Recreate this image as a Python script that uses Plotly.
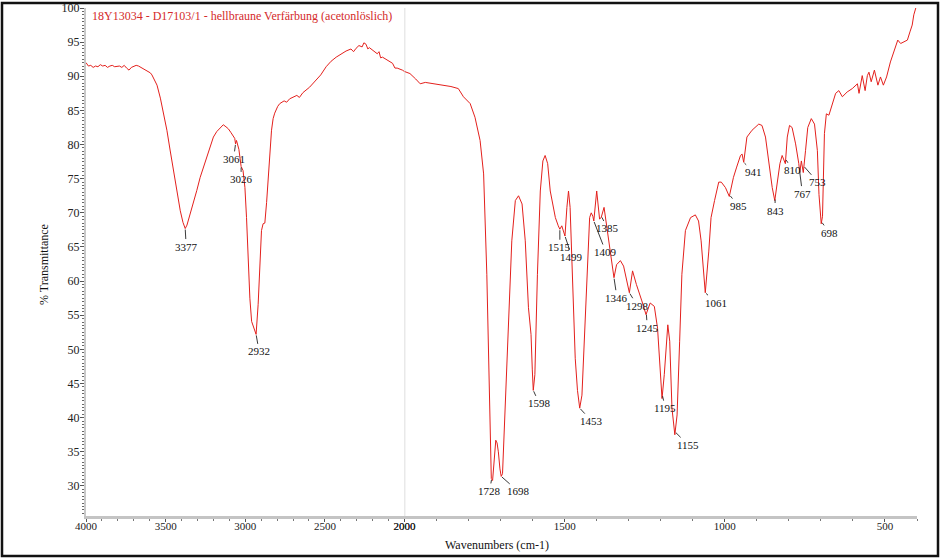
import numpy as np
import plotly.graph_objects as go

# ---- data (wavenumber cm-1, %T) ----
wn_high = [4000, 3985, 3970, 3955, 3940, 3925, 3910, 3895, 3880, 3865, 3850, 3835, 3820, 3805,
           3790, 3775, 3760, 3745, 3730, 3715, 3700, 3685, 3670, 3655, 3640, 3625, 3610, 3596,
           3586, 3571, 3554, 3533, 3512, 3492, 3472, 3452, 3430, 3408, 3391, 3377, 3366, 3346,
           3325, 3304, 3283, 3262, 3242, 3221, 3200, 3179, 3158, 3138, 3121, 3106, 3091, 3075,
           3066, 3061, 3055, 3040, 3033, 3029, 3026, 3014, 3002, 2992, 2981, 2971, 2960, 2946,
           2938, 2932, 2919, 2908, 2898, 2888, 2877, 2866, 2856, 2845, 2835, 2825, 2815, 2796,
           2783, 2756, 2740, 2721, 2696, 2676, 2660, 2638, 2596, 2554, 2526, 2492, 2461, 2429,
           2396, 2367, 2336, 2320, 2304, 2286, 2266, 2255, 2242, 2230, 2221, 2200, 2171, 2160,
           2150, 2138, 2106, 2075, 2060, 2046, 2013, 2000]
t_high = [92.0, 91.5, 91.6, 91.3, 91.5, 91.4, 91.7, 91.5, 91.6, 91.3, 91.5, 91.6, 91.4, 91.5,
          91.5, 91.3, 91.6, 91.2, 90.9, 91.3, 91.5, 91.6, 91.5, 91.3, 91.1, 91.0, 90.8, 90.5,
          90.2, 89.5, 88.7, 86.8, 84.5, 82.1, 79.2, 76.2, 73.1, 70.3, 68.6, 67.7, 68.2, 69.8,
          71.3, 73.3, 75.2, 76.7, 78.1, 79.7, 81.1, 81.9, 82.5, 82.9, 82.6, 82.3, 81.8, 81.1,
          80.9, 80.1, 80.6, 79.3, 78.3, 77.7, 76.8, 76.2, 73.7, 69.3, 62.5, 57.5, 54.1, 53.0,
          52.6, 52.2, 56.6, 62.5, 67.4, 68.4, 68.5, 71.5, 74.7, 79.0, 82.1, 83.8, 84.6, 85.6,
          86.0, 86.4, 86.2, 86.7, 87.0, 87.2, 86.9, 87.6, 88.4, 89.4, 90.2, 91.4, 92.2, 92.8,
          93.3, 93.7, 94.0, 93.6, 94.1, 94.5, 94.3, 94.9, 94.7, 94.0, 94.2, 93.8, 93.3, 93.6,
          92.7, 92.8, 92.3, 91.9, 91.2, 91.2, 90.9, 90.7]

wn_low = [2000, 1983, 1965, 1951, 1935, 1920, 1900, 1878, 1855, 1832, 1816, 1795, 1780, 1764,
          1753, 1743, 1735, 1729, 1725, 1719, 1715, 1711, 1707, 1702, 1698, 1694, 1686, 1675,
          1665, 1654, 1644, 1633, 1623, 1613, 1605, 1601, 1598, 1593, 1585, 1576, 1568, 1561,
          1553, 1545, 1537, 1529, 1520, 1515, 1509, 1502, 1499, 1493, 1488, 1483, 1474, 1467,
          1460, 1453, 1446, 1439, 1430, 1422, 1417, 1412, 1409, 1400, 1391, 1386, 1377, 1368,
          1357, 1346, 1338, 1326, 1316, 1306, 1298, 1288, 1276, 1259, 1246, 1233, 1220, 1210,
          1203, 1196, 1189, 1178, 1172, 1165, 1156, 1149, 1141, 1134, 1123, 1107, 1092, 1082,
          1074, 1067, 1061, 1050, 1043, 1032, 1019, 1011, 998, 986, 977, 973, 963, 951, 946,
          941, 931, 915, 894, 884, 873, 863, 852, 844, 836, 828, 821, 811, 805, 798, 790, 779,
          769, 766, 761, 755, 748, 741, 730, 720, 711, 706, 699, 695, 689, 683, 675, 665, 654,
          644, 633, 618, 602, 586, 581, 571, 562, 555, 550, 543, 533, 522, 514, 505, 495, 483,
          467, 460, 451, 441, 430, 422, 415, 410, 401, 400]
t_low = [90.7, 90.4, 89.6, 88.9, 89.1, 89.0, 88.9, 88.7, 88.5, 88.2, 87.0, 86.0, 84.0, 80.6,
         75.7, 61.0, 41.4, 31.1, 30.8, 35.0, 36.7, 36.3, 35.0, 32.5, 31.4, 31.8, 41.4, 56.1,
         65.9, 71.8, 72.5, 71.3, 65.9, 56.1, 52.2, 47.0, 44.0, 46.3, 61.0, 73.2, 77.6, 78.4,
         77.2, 73.2, 71.0, 69.3, 68.1, 67.6, 68.1, 66.8, 66.6, 70.8, 73.2, 70.8, 58.5, 48.7,
         44.0, 41.4, 43.3, 51.2, 61.0, 69.3, 70.0, 69.5, 68.8, 73.2, 69.1, 69.3, 70.8, 67.8,
         64.4, 60.5, 62.4, 63.0, 62.2, 60.0, 58.3, 61.5, 59.5, 57.1, 55.1, 56.8, 56.3, 53.1,
         47.3, 42.8, 46.3, 53.6, 51.2, 41.4, 37.5, 40.4, 51.2, 61.0, 67.4, 69.3, 69.7, 68.8,
         65.9, 61.5, 58.3, 64.4, 69.3, 71.8, 74.5, 74.5, 73.7, 72.4, 74.2, 75.2, 76.7, 78.4, 78.6,
         77.4, 81.1, 82.1, 83.0, 82.8, 81.1, 77.6, 73.7, 71.8, 74.2, 77.2, 78.4, 77.2, 81.1, 82.8, 82.5, 80.1,
         77.2, 75.9, 77.6, 75.9, 79.1, 82.5, 83.8, 83.0, 79.1, 72.7, 68.4, 69.5, 81.6, 84.5, 84.3, 86.0, 87.5,
         87.9, 87.0, 87.7, 88.2, 88.9, 87.5, 90.1, 87.9, 90.1, 90.6, 89.2, 90.9, 88.7, 89.9, 88.7, 89.9, 92.1,
         94.3, 95.3, 94.8, 95.0, 95.3, 96.5, 97.5, 99.0, 100.4, 100.6]

peak_labels = [3377, 3061, 3026, 2932, 1728, 1698, 1598, 1515, 1499, 1453, 1409, 1385, 1346,
               1298, 1245, 1195, 1155, 1061, 985, 941, 843, 810, 767, 753, 698]
# label text offsets (pixels) from the marked point
label_dx = [1, -2, 0, 3, -2, 17, 6, 0, 7, 12, 12, 6, 3, 8, 1, 3, 13, 11, 9, 10, 0, 7, 3, 14, 8]
label_dy = [18, 15, 13, 17, 12, 15, 13, 18, 21, 13, 31, 12, 20, 13, 14, 13, 13, 10, 11, 10, 12, 11, 24, 16, 11]

title_text = "18Y13034 - D17103/1 - hellbraune Verfärbung (acetonlöslich)"

RED = "#e3201c"
FONT = "Liberation Serif"

all_wn = np.array(wn_high + wn_low[1:], dtype=float)
all_t = np.array(t_high + t_low[1:], dtype=float)
order = np.argsort(all_wn)

fig = go.Figure()
fig.add_trace(go.Scatter(x=wn_high, y=t_high, mode="lines", xaxis="x", yaxis="y",
                         line=dict(color=RED, width=1), hoverinfo="skip", showlegend=False))
fig.add_trace(go.Scatter(x=wn_low, y=t_low, mode="lines", xaxis="x2", yaxis="y",
                         line=dict(color=RED, width=1), hoverinfo="skip", showlegend=False))

split = 318.5 / 831.0
axis_common = dict(showgrid=False, zeroline=False, showline=True, linecolor="#c4c4c4", linewidth=3,
                   ticks="outside", ticklen=3, tickcolor="#555", tickwidth=1, automargin=False,
                   ticklabelstandoff=-5,
                   tickfont=dict(family=FONT, size=11, color="#222"),
                   minor=dict(ticks="outside", ticklen=2, dtick=100, tickcolor="#777", tickwidth=1),
                   anchor="y")

annotations = []
for wn, dx, dy in zip(peak_labels, label_dx, label_dy):
    yv = float(np.interp(wn, all_wn[order], all_t[order]))
    annotations.append(dict(x=wn, y=yv, xref="x" if wn > 2000 else "x2", yref="y",
                            text=str(wn), showarrow=True, arrowhead=0, arrowwidth=0.9,
                            arrowcolor="#222", ax=dx, ay=dy, standoff=1,
                            font=dict(family=FONT, size=11, color="#111")))

annotations += [
    dict(x=0.0048, y=0.984, xref="paper", yref="paper", xanchor="left", yanchor="middle",
         text=title_text, showarrow=False, font=dict(family=FONT, size=12, color="#d42a2a")),
    dict(x=(497 - 86) / 831, y=(516 - 545) / 508, xref="paper", yref="paper",
         xanchor="center", yanchor="middle", text="Wavenumbers (cm-1)", showarrow=False,
         font=dict(family=FONT, size=12, color="#111")),
    dict(x=(44 - 86) / 831, y=0.494, xref="paper", yref="paper", textangle=-90,
         xanchor="center", yanchor="middle", text="% Transmittance", showarrow=False,
         font=dict(family=FONT, size=12, color="#111")),
]

fig.update_layout(
    width=940, height=558,
    margin=dict(l=86, r=23, t=8, b=42, autoexpand=False),
    paper_bgcolor="white", plot_bgcolor="white",
    xaxis=dict(domain=[0, split], range=[4000, 2000], tickvals=[4000, 3500, 3000, 2500, 2000],
               **axis_common),
    xaxis2=dict(domain=[split, 1], range=[2000, 400], tickvals=[2000, 1500, 1000, 500],
                **axis_common),
    yaxis=dict(range=[25.6, 100], tickvals=list(range(30, 101, 5)), showgrid=False, zeroline=False,
               showline=True, linecolor="#c8c8c8", linewidth=2, ticks="outside", ticklen=4,
               tickcolor="#555", tickfont=dict(family=FONT, size=12, color="#222"),
               minor=dict(ticks="outside", ticklen=2, dtick=0.5, tickcolor="#666"),
               ticklabelstandoff=-2, automargin=False, anchor="x"),
    annotations=annotations,
    shapes=[
        dict(type="line", xref="x2", yref="paper", x0=2000, x1=2000, y0=0, y1=1,
             line=dict(color="#d4d4d4", width=1.5), layer="below"),
        dict(type="rect", xref="paper", yref="paper",
             x0=(2 - 86) / 831, x1=(938 - 86) / 831, y0=(516 - 556) / 508, y1=(516 - 3) / 508,
             line=dict(color="#111", width=2.5)),
    ],
)

fig.write_html("out.html", config={"displayModeBar": False},
               post_script="document.body.style.margin='0';document.body.style.overflow='hidden';")
